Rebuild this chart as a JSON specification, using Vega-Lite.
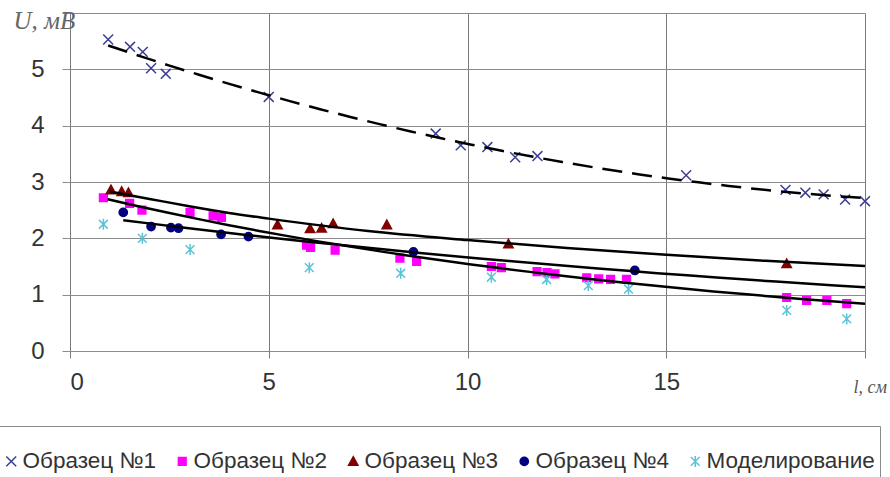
{
  "$schema": "https://vega.github.io/schema/vega-lite/v6.json",
  "width": 795,
  "height": 338,
  "autosize": {"type": "none"},
  "padding": {"left": 70, "top": 13, "right": 25, "bottom": 126},
  "background": "white",
  "config": {
    "view": {"stroke": null},
    "font": "Liberation Sans",
    "legend": {
      "labelFont": "Liberation Sans",
      "labelFontSize": 22.5,
      "labelColor": "#333333",
      "labelLimit": 400,
      "labelOffset": 0,
      "columnPadding": 14,
      "padding": 5,
      "strokeColor": "#8c8c8c",
      "fillColor": "white",
      "titleFontSize": 12,
      "titlePadding": 7,
      "symbolSize": 121,
      "symbolStrokeWidth": 1.5
    }
  },
  "datasets": {
    "points": [
      {"series": "Образец №1", "l": 0.96, "u": 5.53},
      {"series": "Образец №1", "l": 1.51, "u": 5.4},
      {"series": "Образец №1", "l": 1.83, "u": 5.31},
      {"series": "Образец №1", "l": 2.04, "u": 5.02},
      {"series": "Образец №1", "l": 2.41, "u": 4.92},
      {"series": "Образец №1", "l": 5.0, "u": 4.51},
      {"series": "Образец №1", "l": 9.2, "u": 3.86},
      {"series": "Образец №1", "l": 9.83, "u": 3.65},
      {"series": "Образец №1", "l": 10.5, "u": 3.62},
      {"series": "Образец №1", "l": 11.2, "u": 3.44},
      {"series": "Образец №1", "l": 11.76, "u": 3.46},
      {"series": "Образец №1", "l": 15.5, "u": 3.12},
      {"series": "Образец №1", "l": 18.0, "u": 2.86},
      {"series": "Образец №1", "l": 18.5, "u": 2.81},
      {"series": "Образец №1", "l": 18.96, "u": 2.78},
      {"series": "Образец №1", "l": 19.5, "u": 2.69},
      {"series": "Образец №1", "l": 20.0, "u": 2.66},
      {"series": "Образец №2", "l": 0.84, "u": 2.72},
      {"series": "Образец №2", "l": 1.5, "u": 2.62},
      {"series": "Образец №2", "l": 1.81, "u": 2.5},
      {"series": "Образец №2", "l": 3.02, "u": 2.46},
      {"series": "Образец №2", "l": 3.6, "u": 2.4},
      {"series": "Образец №2", "l": 3.81, "u": 2.37},
      {"series": "Образец №2", "l": 5.95, "u": 1.88},
      {"series": "Образец №2", "l": 6.05, "u": 1.84},
      {"series": "Образец №2", "l": 6.67, "u": 1.79},
      {"series": "Образец №2", "l": 8.3, "u": 1.65},
      {"series": "Образец №2", "l": 8.72, "u": 1.59},
      {"series": "Образец №2", "l": 10.6, "u": 1.5},
      {"series": "Образец №2", "l": 10.85, "u": 1.48},
      {"series": "Образец №2", "l": 11.75, "u": 1.41},
      {"series": "Образец №2", "l": 12.0, "u": 1.39},
      {"series": "Образец №2", "l": 12.2, "u": 1.37},
      {"series": "Образец №2", "l": 13.0, "u": 1.3},
      {"series": "Образец №2", "l": 13.3, "u": 1.28},
      {"series": "Образец №2", "l": 13.6, "u": 1.27},
      {"series": "Образец №2", "l": 14.0, "u": 1.27},
      {"series": "Образец №2", "l": 18.03, "u": 0.95},
      {"series": "Образец №2", "l": 18.53, "u": 0.9},
      {"series": "Образец №2", "l": 19.04, "u": 0.9},
      {"series": "Образец №2", "l": 19.54, "u": 0.84},
      {"series": "Образец №3", "l": 1.03, "u": 2.86},
      {"series": "Образец №3", "l": 1.3, "u": 2.83},
      {"series": "Образец №3", "l": 1.47, "u": 2.81},
      {"series": "Образец №3", "l": 5.22, "u": 2.24},
      {"series": "Образец №3", "l": 6.04, "u": 2.17},
      {"series": "Образец №3", "l": 6.33, "u": 2.18},
      {"series": "Образец №3", "l": 6.62, "u": 2.26},
      {"series": "Образец №3", "l": 7.97, "u": 2.24},
      {"series": "Образец №3", "l": 11.03, "u": 1.9},
      {"series": "Образец №3", "l": 18.03, "u": 1.55},
      {"series": "Образец №4", "l": 1.34, "u": 2.46},
      {"series": "Образец №4", "l": 2.04, "u": 2.21},
      {"series": "Образец №4", "l": 2.54, "u": 2.19},
      {"series": "Образец №4", "l": 2.73, "u": 2.18},
      {"series": "Образец №4", "l": 3.8, "u": 2.07},
      {"series": "Образец №4", "l": 4.49, "u": 2.03},
      {"series": "Образец №4", "l": 8.64, "u": 1.76},
      {"series": "Образец №4", "l": 14.21, "u": 1.43},
      {"series": "Моделирование", "l": 0.84, "u": 2.25},
      {"series": "Моделирование", "l": 1.82, "u": 2.0},
      {"series": "Моделирование", "l": 3.02, "u": 1.8},
      {"series": "Моделирование", "l": 6.02, "u": 1.48},
      {"series": "Моделирование", "l": 8.32, "u": 1.38},
      {"series": "Моделирование", "l": 10.6, "u": 1.31},
      {"series": "Моделирование", "l": 11.99, "u": 1.27},
      {"series": "Моделирование", "l": 13.04, "u": 1.16},
      {"series": "Моделирование", "l": 14.05, "u": 1.1},
      {"series": "Моделирование", "l": 18.03, "u": 0.72},
      {"series": "Моделирование", "l": 19.54, "u": 0.57}
    ],
    "trend3": [
      {"l": 1.0, "u": 2.83},
      {"l": 2.0, "u": 2.7},
      {"l": 3.0, "u": 2.57},
      {"l": 4.0, "u": 2.45},
      {"l": 5.0, "u": 2.35},
      {"l": 7.5, "u": 2.13},
      {"l": 10.0, "u": 1.97},
      {"l": 12.5, "u": 1.83},
      {"l": 15.0, "u": 1.71},
      {"l": 17.5, "u": 1.6},
      {"l": 20.0, "u": 1.51}
    ]
  },
  "data": {"name": "points"},
  "encoding": {
    "x": {
      "field": "l",
      "type": "quantitative",
      "scale": {"domain": [0, 20], "nice": false, "zero": false},
      "axis": {
        "values": [0, 5, 10, 15, 20],
        "grid": true,
        "gridColor": "#7a7a7a",
        "gridWidth": 1,
        "domain": false,
        "ticks": true,
        "tickColor": "#7a7a7a",
        "tickSize": 7,
        "labelFont": "Liberation Sans",
        "labelFontSize": 24,
        "labelColor": "#333333",
        "labelPadding": 12,
        "labelExpr": "datum.value == 20 ? '' : datum.label",
        "title": "l, см",
        "titleFont": "Liberation Serif",
        "titleFontStyle": "italic",
        "titleFontWeight": "normal",
        "titleFontSize": 18,
        "titleColor": "#555555",
        "titleX": 783,
        "titleY": 41,
        "titleAlign": "left",
        "titleBaseline": "alphabetic"
      }
    },
    "y": {
      "field": "u",
      "type": "quantitative",
      "scale": {"domain": [0, 6], "nice": false},
      "axis": {
        "values": [0, 1, 2, 3, 4, 5, 6],
        "grid": true,
        "gridColor": "#8c8c8c",
        "gridWidth": 1,
        "domain": false,
        "ticks": true,
        "tickColor": "#8c8c8c",
        "tickSize": 8,
        "labelFont": "Liberation Sans",
        "labelFontSize": 24,
        "labelColor": "#333333",
        "labelPadding": 18,
        "labelExpr": "datum.value == 6 ? '' : datum.label",
        "title": "U, мВ",
        "titleFont": "Liberation Serif",
        "titleFontStyle": "italic",
        "titleFontWeight": "normal",
        "titleFontSize": 25,
        "titleColor": "#666666",
        "titleAngle": 0,
        "titleX": -57,
        "titleY": 15,
        "titleAlign": "left",
        "titleBaseline": "alphabetic"
      }
    }
  },
  "layer": [
    {
      "mark": {"type": "point", "size": 121, "strokeWidth": 1.5, "opacity": 1},
      "encoding": {
        "fill": {
          "field": "series",
          "type": "nominal",
          "scale": {
            "domain": ["Образец №1", "Образец №2", "Образец №3", "Образец №4", "Моделирование"],
            "range": ["transparent", "#ff00ff", "#800000", "#000080", "transparent"]
          },
          "legend": {"orient": "none", "legendX": -75, "legendY": 413, "direction": "horizontal", "title": " "}
        },
        "stroke": {
          "field": "series",
          "type": "nominal",
          "scale": {
            "domain": ["Образец №1", "Образец №2", "Образец №3", "Образец №4", "Моделирование"],
            "range": ["#3c3c96", "#ff00ff", "#800000", "#000080", "#5cc3d6"]
          },
          "legend": {"orient": "none", "legendX": -75, "legendY": 413, "direction": "horizontal", "title": " "}
        },
        "shape": {
          "field": "series",
          "type": "nominal",
          "scale": {
            "domain": ["Образец №1", "Образец №2", "Образец №3", "Образец №4", "Моделирование"],
            "range": [
              "M-0.9,-0.9L0.9,0.9M-0.9,0.9L0.9,-0.9",
              "M-0.7,-0.7H0.7V0.7H-0.7Z",
              "M0,-0.85L0.85,0.7H-0.85Z",
              "M-0.75,0A0.75,0.75 0 1,0 0.75,0A0.75,0.75 0 1,0 -0.75,0Z",
              "M-0.8,-0.8L0.8,0.8M-0.8,0.8L0.8,-0.8M0,-1L0,1"
            ]
          },
          "legend": {"orient": "none", "legendX": -75, "legendY": 413, "direction": "horizontal", "title": " "}
        }
      }
    },
    {
      "transform": [
        {"filter": "datum.series === 'Образец №1'"},
        {"regression": "u", "on": "l", "method": "poly", "order": 2, "extent": [0.96, 20]}
      ],
      "mark": {"type": "line", "color": "black", "strokeWidth": 2.5, "strokeDash": [20, 10]}
    },
    {
      "transform": [
        {"filter": "datum.series === 'Образец №2'"},
        {"regression": "u", "on": "l", "method": "exp", "extent": [0.95, 20]}
      ],
      "mark": {"type": "line", "color": "black", "strokeWidth": 2.5}
    },
    {
      "data": {"name": "trend3"},
      "mark": {"type": "line", "color": "black", "strokeWidth": 2.5, "interpolate": "monotone"}
    },
    {
      "transform": [
        {"filter": "datum.series === 'Образец №4'"},
        {"regression": "u", "on": "l", "method": "exp", "extent": [1.34, 20]}
      ],
      "mark": {"type": "line", "color": "black", "strokeWidth": 2.5}
    }
  ]
}
